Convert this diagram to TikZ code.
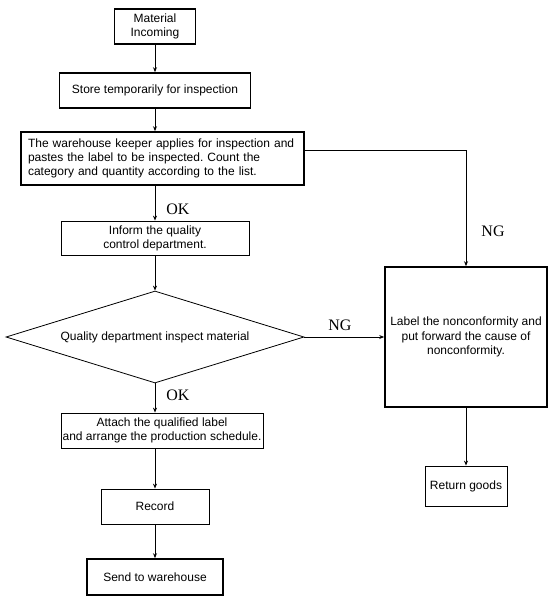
\documentclass[tikz,border=0pt]{standalone}
\usepackage{fontspec}
\setmainfont{Liberation Sans}
\newfontfamily\serifok{Liberation Serif}
\usetikzlibrary{shapes.geometric,arrows.meta}
\frenchspacing
\begin{document}
\begin{tikzpicture}[x=1pt,y=-1pt,
  box/.style={draw, line width=0.8pt, inner sep=2pt, align=center, font=\fontsize{12}{14}\selectfont},
  thickbox/.style={box, line width=1.6pt},
  decision/.style={draw, diamond, shape aspect=3.24, line width=0.8pt, inner sep=0pt, font=\fontsize{12}{14}\selectfont},
  arr/.style={-{Stealth[length=5pt,width=4pt]}, line width=0.9pt},
  lab/.style={font=\serifok\fontsize{16}{16}\selectfont, inner sep=0pt}]
\useasboundingbox (0,0) rectangle (555,606);
\node[thickbox, minimum width=81pt, minimum height=35pt] (n1) at (155,26.5) {Material\\Incoming};
\node[thickbox, minimum width=191pt, minimum height=35pt] (n2) at (155,90.5) {Store temporarily for inspection};
\node[thickbox, align=left, inner xsep=7pt, text width=269pt, minimum height=53pt] (n3) at (162.5,158.5) {The warehouse keeper applies for inspection and\\pastes the label to be inspected. Count the\\category and quantity according to the list.};
\node[box, minimum width=188pt, minimum height=34pt] (n4) at (155,238) {Inform the quality\\control department.};
\node[decision, minimum width=298pt, minimum height=92pt] (d) at (155,337) {Quality department inspect material};
\node[box, inner sep=0pt, minimum width=202pt, minimum height=35pt] (n6) at (162,430.5) {Attach the qualified label\\and arrange the production schedule.};
\node[box, minimum width=108pt, minimum height=35pt] (n7) at (155,506.5) {Record};
\node[thickbox, minimum width=136pt, minimum height=36pt] (n8) at (155,577) {Send to warehouse};
\node[thickbox, inner sep=0pt, minimum width=162pt, minimum height=140pt, font=\fontsize{12}{14.5}\selectfont] (n9) at (466,337) {Label the nonconformity and\\put forward the cause of\\nonconformity.};
\node[box, minimum width=82pt, minimum height=40pt] (n10) at (466,486) {Return goods};
\draw[arr] (n1) -- (n2);
\draw[arr] (n2) -- (n2 |- n3.north);
\draw[arr] (n2 |- n3.south) -- (n4);
\draw[arr] (n4) -- (d);
\draw[arr] (d) -- (d |- n6.north);
\draw[arr] (d |- n6.south) -- (n7);
\draw[arr] (n7) -- (n8);
\draw[arr] ([yshift=8.5pt]n3.east) -| (n9);
\draw[arr] (d) -- (n9);
\draw[arr] (n9) -- (n10);
\node[lab] (ok1) at (178,209) {OK};
\node[lab] (ok2) at (178,395.5) {OK};
\node[lab] (ng1) at (493,231) {NG};
\node[lab] (ng2) at (340,325.5) {NG};
\end{tikzpicture}
\end{document}
